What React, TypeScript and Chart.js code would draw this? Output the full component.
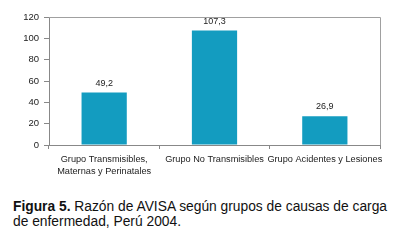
import React, { useEffect, useRef } from "react";
import { Chart, registerables } from "chart.js";

Chart.register(...registerables);

const categories: (string | string[])[] = [
  ["Grupo Transmisibles,", "Maternas y Perinatales"],
  "Grupo No Transmisibles",
  "Grupo Acidentes y Lesiones",
];
const values = [49.2, 107.3, 26.9];
const yMin = 0;
const yMax = 120;
const yStep = 20;

const FONT = "'Liberation Sans', Arial, sans-serif";

const framePlugin = {
  id: "frame",
  afterDraw(chart: any) {
    const { ctx, chartArea } = chart;
    ctx.save();
    ctx.strokeStyle = "#a0a0a0";
    ctx.lineWidth = 1;
    ctx.beginPath();
    ctx.moveTo(chartArea.left, chartArea.top + 0.5);
    ctx.lineTo(chartArea.right + 0.5, chartArea.top + 0.5);
    ctx.lineTo(chartArea.right + 0.5, chartArea.bottom);
    ctx.stroke();
    ctx.restore();
  },
};

const valueLabels = {
  id: "valueLabels",
  afterDatasetsDraw(chart: any) {
    const { ctx } = chart;
    const meta = chart.getDatasetMeta(0);
    ctx.save();
    ctx.fillStyle = "#222";
    ctx.font = `9px ${FONT}`;
    ctx.textAlign = "center";
    ctx.textBaseline = "bottom";
    meta.data.forEach((el: any, i: number) => {
      const v = chart.data.datasets[0].data[i] as number;
      ctx.fillText(v.toFixed(1).replace(".", ","), el.x, el.y - 5);
    });
    ctx.restore();
  },
};

export default function App() {
  const ref = useRef<HTMLCanvasElement>(null);
  useEffect(() => {
    if (!ref.current) return;
    const chart = new Chart(ref.current, {
      type: "bar",
      data: {
        labels: categories,
        datasets: [
          {
            data: values,
            backgroundColor: "#139cc0",
            categoryPercentage: 1,
            barPercentage: 0.41,
          },
        ],
      },
      options: {
        animation: false,
        responsive: false,
        maintainAspectRatio: false,
        layout: { padding: { top: 17, right: 5, left: 0, bottom: 0 } },
        plugins: { legend: { display: false }, tooltip: { enabled: false } },
        scales: {
          x: {
            offset: true,
            grid: {
              offset: true,
              drawOnChartArea: false,
              drawTicks: true,
              tickLength: 4,
              color: "#888",
            },
            border: { color: "#888" },
            ticks: {
              color: "#222",
              font: { family: FONT, size: 9.2, lineHeight: "12px" },
              maxRotation: 0,
              minRotation: 0,
              autoSkip: false,
              padding: 4,
            },
            afterFit(scale: any) {
              scale.height = 40;
              scale.paddingLeft = 0;
              scale.paddingRight = 0;
            },
          },
          y: {
            min: yMin,
            max: yMax,
            grid: {
              drawOnChartArea: false,
              drawTicks: true,
              tickLength: 5,
              color: "#888",
            },
            border: { color: "#888" },
            ticks: {
              stepSize: yStep,
              color: "#222",
              font: { family: FONT, size: 9.5 },
              padding: 5,
            },
            afterFit(scale: any) {
              scale.width = 49;
            },
          },
        },
      },
      plugins: [framePlugin, valueLabels],
    });
    return () => chart.destroy();
  }, []);

  return (
    <div
      style={{
        position: "fixed",
        left: 0,
        top: 0,
        width: 400,
        height: 245,
        background: "#fff",
        overflow: "hidden",
      }}
    >
      <canvas
        ref={ref}
        width={385}
        height={185}
        style={{ position: "absolute", left: 0, top: 0, width: 385, height: 185 }}
      />
      <div
        style={{
          position: "absolute",
          left: 13,
          top: 199,
          fontFamily: FONT,
          fontSize: 13.8,
          lineHeight: "15px",
          color: "#111",
          whiteSpace: "nowrap",
        }}
      >
        <b>Figura 5.</b> Razón de AVISA según grupos de causas de carga
        <br />
        de enfermedad, Perú 2004.
      </div>
    </div>
  );
}
